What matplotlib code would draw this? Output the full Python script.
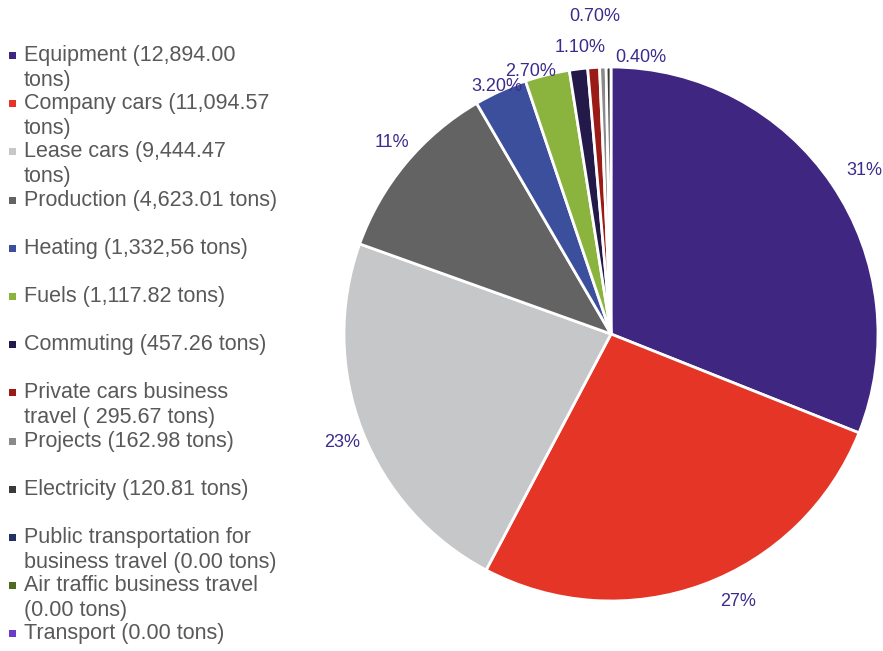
import numpy as np
import matplotlib.pyplot as plt
from matplotlib.patches import Rectangle

plt.rcParams["font.family"] = ["Liberation Sans", "DejaVu Sans"]

# data
categories = [
    "Equipment", "Company cars", "Lease cars", "Production", "Heating", "Fuels",
    "Commuting", "Private cars business travel", "Projects", "Electricity",
    "Public transportation for business travel", "Air traffic business travel",
    "Transport",
]
tons = [12894.00, 11094.57, 9444.47, 4623.01, 1332.56, 1117.82,
        457.26, 295.67, 162.98, 120.81, 0.00, 0.00, 0.00]
legend_labels = [
    "Equipment (12,894.00\ntons)",
    "Company cars (11,094.57\ntons)",
    "Lease cars (9,444.47\ntons)",
    "Production (4,623.01 tons)",
    "Heating (1,332,56 tons)",
    "Fuels (1,117.82 tons)",
    "Commuting (457.26 tons)",
    "Private cars business\ntravel ( 295.67 tons)",
    "Projects (162.98 tons)",
    "Electricity (120.81 tons)",
    "Public transportation for\nbusiness travel (0.00 tons)",
    "Air traffic business travel\n(0.00 tons)",
    "Transport (0.00 tons)",
]
pct_labels = ["31%", "27%", "23%", "11%", "3.20%", "2.70%", "1.10%", "0.70%", "0.40%", ""]

colors = ["#3f2680", "#e43526", "#c6c7c9", "#636363", "#3b4f9c", "#8ab43d",
          "#231a4a", "#9b1c16", "#8a8a8a", "#3a3a3a", "#233062", "#4e6b25", "#6a3cc8"]

# label placement (radius factor, angle nudge in degrees)
label_r = [1.13, 1.11, 1.085, 1.09, 1.02, 1.03, 1.08, 1.19, 1.04, 1.1]
label_da = [-1.3, 5.3, 0.9, -1.4, 0.3, 3.2, -0.8, -0.8, -8.0, 0]

W, H = 883, 651
fig = plt.figure(figsize=(W / 100, H / 100), dpi=100)

cx, cy, R = 611, 334, 267
ax = fig.add_axes([(cx - R) / W, 1 - (cy + R) / H, 2 * R / W, 2 * R / H])

vals = [v for v in tons if v > 0]
wedges, _ = ax.pie(vals, colors=colors[:len(vals)], startangle=90, counterclock=False,
                   radius=1, wedgeprops=dict(edgecolor="white", linewidth=2))
ax.set_xlim(-1, 1)
ax.set_ylim(-1, 1)
ax.set_aspect("auto")
ax.axis("off")

for w, lab, r, da in zip(wedges, pct_labels, label_r, label_da):
    if not lab:
        continue
    ang = np.deg2rad((w.theta1 + w.theta2) / 2 + da)
    ax.text(r * np.cos(ang), r * np.sin(ang), lab, ha="center", va="center",
            fontsize=13, color="#3d2b8c", clip_on=False)

# legend drawn as a column of entries
y0, step = 56, 48.2
for i, (lab, col) in enumerate(zip(legend_labels, colors)):
    yc = y0 + i * step
    fig.patches.append(Rectangle((9 / W, 1 - (yc + 3) / H), 7 / W, 7 / H,
                                 transform=fig.transFigure, facecolor=col,
                                 edgecolor="none"))
    fig.text(24 / W, 1 - (yc - 11) / H, lab, ha="left", va="top", fontsize=15.5,
             color="#595959", linespacing=1.25)

fig.savefig("out.png", dpi=100)
